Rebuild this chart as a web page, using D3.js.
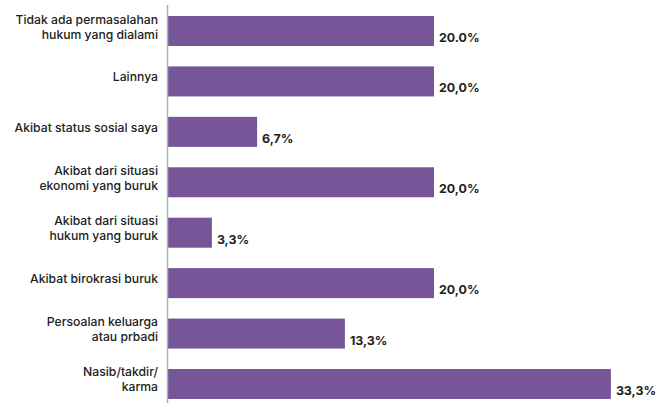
<!DOCTYPE html>
<html>
<head>
<meta charset="utf-8">
<script src="https://cdn.jsdelivr.net/npm/d3@7"></script>
<style>
  body { margin: 0; background: #fff; }
  svg { display: block; font-family: Inter, "Open Sans", sans-serif; }
</style>
</head>
<body>
<svg id="chart" width="660" height="403"></svg>
<script>
const categories = [
  ["Tidak ada permasalahan", "hukum yang dialami"],
  ["Lainnya"],
  ["Akibat status sosial saya"],
  ["Akibat dari situasi", "ekonomi yang buruk"],
  ["Akibat dari situasi", "hukum yang buruk"],
  ["Akibat birokrasi buruk"],
  ["Persoalan keluarga", "atau prbadi"],
  ["Nasib/takdir/", "karma"]
];
const values = [20.0, 20.0, 6.7, 20.0, 3.3, 20.0, 13.3, 33.3];
const valueLabels = ["20.0%", "20,0%", "6,7%", "20,0%", "3,3%", "20,0%", "13,3%", "33,3%"];

const svg = d3.select("#chart");
const left = 168;

const x = d3.scaleLinear().domain([0, 35]).range([left, left + 35 * 13.3]);
const y = d3.scaleBand()
    .domain(d3.range(values.length))
    .range([16, 399])
    .paddingInner(0.405)
    .paddingOuter(0);

// bars
svg.append("g").selectAll("rect")
    .data(values)
    .join("rect")
    .attr("x", x(0))
    .attr("y", (d, i) => y(i))
    .attr("width", d => x(d) - x(0))
    .attr("height", y.bandwidth())
    .attr("fill", "#775599");

// value labels
svg.append("g").selectAll("text")
    .data(values)
    .join("text")
    .attr("x", d => x(d) + 5)
    .attr("y", (d, i) => y(i) + y.bandwidth() - 4)
    .attr("font-size", 12.4)
    .attr("font-weight", "bold")
    .attr("fill", "#222")
    .text((d, i) => valueLabels[i]);

// category labels
const lineH = 15;
const cat = svg.append("g").selectAll("text")
    .data(categories)
    .join("text")
    .attr("text-anchor", "end")
    .attr("font-size", 12.2)
    .attr("font-weight", 500)
    .attr("fill", "#222")
    .attr("y", (d, i) => y(i) + y.bandwidth() / 2 - (d.length - 1) * lineH / 2)
    .attr("dy", "0.35em");
cat.selectAll("tspan")
    .data(d => d)
    .join("tspan")
    .attr("x", left - 10)
    .attr("dy", (d, j) => j === 0 ? 0 : lineH)
    .text(d => d);

// axis line
svg.append("line")
    .attr("x1", left - 0.5).attr("x2", left - 0.5)
    .attr("y1", 5).attr("y2", 403)
    .attr("stroke", "#a3baa9")
    .attr("stroke-width", 1.5);
</script>
</body>
</html>
